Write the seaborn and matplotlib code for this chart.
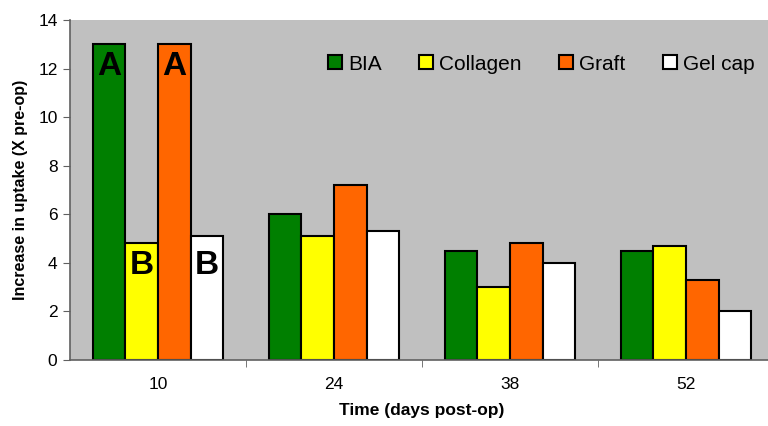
import matplotlib
matplotlib.use('Agg')
import matplotlib.pyplot as plt
import seaborn as sns
import pandas as pd
import numpy as np

days = ["10", "24", "38", "52"]
groups = ["BIA", "Collagen", "Graft", "Gel cap"]
bia = [13.0, 6.0, 4.5, 4.5]
collagen = [4.8, 5.1, 3.0, 4.7]
graft = [13.0, 7.2, 4.8, 3.3]
gelcap = [5.1, 5.3, 4.0, 2.0]
colors = ["#007F00", "#FFFF00", "#FF6600", "#FFFFFF"]

df = pd.DataFrame({
    "day": days * 4,
    "group": [g for g in groups for _ in days],
    "value": bia + collagen + graft + gelcap,
})

sns.set_style("white")
plt.rcParams['font.family'] = ['Liberation Sans', 'DejaVu Sans']
plt.rcParams.update({"text.color": "black", "axes.labelcolor": "black",
                     "xtick.labelcolor": "black", "ytick.labelcolor": "black"})

fig = plt.figure(figsize=(7.68, 4.26), dpi=100)
# plot area runs slightly past the right edge of the picture, as in the original
ax = fig.add_axes([70 / 768, 66 / 426, 704 / 768, 340 / 426])
ax.set_facecolor("#C0C0C0")

bw = 0.74
sns.barplot(data=df, x="day", y="value", hue="group", hue_order=groups,
            order=days, palette=colors, saturation=1, edgecolor="black",
            linewidth=1.5, width=bw, gap=0, ax=ax)

ax.set_ylim(0, 14)
ax.set_xlim(-0.5, 3.5)
ax.set_yticks(range(0, 15, 2))
ax.tick_params(axis="y", labelsize=12.5, length=5, direction="out", left=True,
               color="#606060", pad=4)
ax.tick_params(axis="x", which="major", length=0, labelsize=12.5, pad=12)
ax.set_xticks([0.5, 1.5, 2.5], minor=True)
ax.tick_params(axis="x", which="minor", length=5, bottom=True, color="#606060")

for s in ["top", "right"]:
    ax.spines[s].set_visible(False)
for s in ["left", "bottom"]:
    ax.spines[s].set_color("#606060")
    ax.spines[s].set_linewidth(1.2)

ax.set_xlabel("Time (days post-op)", fontsize=12.5, fontweight="bold", labelpad=8)
ax.set_ylabel("Increase in uptake (X pre-op)", fontsize=11.5, fontweight="bold", labelpad=7)

# significance letters
off = bw / 4
for dx, y, s in [(-1.5, 12.1, "A"), (0.5, 12.1, "A"), (-0.5, 3.9, "B"), (1.5, 3.9, "B")]:
    ax.text(dx * off, y, s, ha="center", va="center", fontsize=24,
            fontweight="bold", color="black")

leg = ax.legend(loc="center left", bbox_to_anchor=(258 / 704, 0.87), ncol=4, frameon=False,
                fontsize=15, handlelength=0.67, handleheight=0.67, handletextpad=0.29,
                columnspacing=1.8, borderaxespad=0, borderpad=0)

fig.savefig("out.png", dpi=100)
